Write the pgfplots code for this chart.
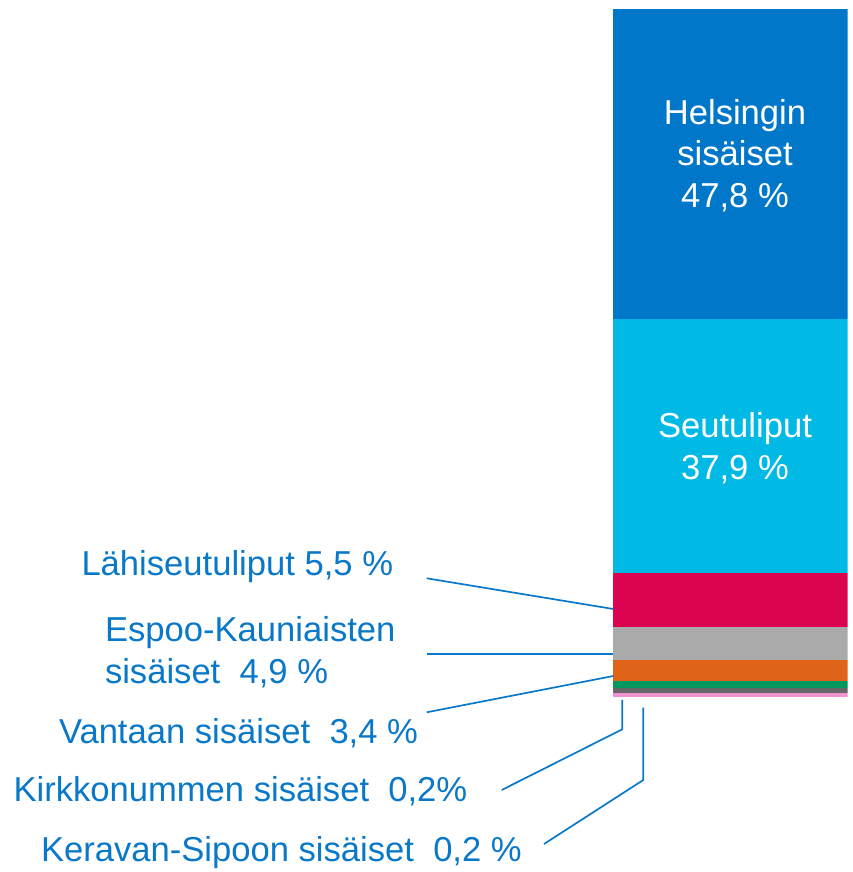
\documentclass[border=0pt]{standalone}
\usepackage{pgfplots}
\pgfplotsset{compat=1.18}
\usepackage{fontspec}
\setmainfont{Liberation Sans}
\definecolor{hslblue}{HTML}{0077C8}
\definecolor{hslcyan}{HTML}{00B9E4}
\definecolor{hslred}{HTML}{DC0451}
\definecolor{hslgray}{HTML}{AAAAAA}
\definecolor{hslorange}{HTML}{E0631A}
\definecolor{hslgreen}{HTML}{00985F}
\definecolor{hsldgray}{HTML}{666666}
\definecolor{hslpink}{HTML}{F092CD}
\definecolor{labblue}{HTML}{0A78C8}
\begin{document}
\begin{tikzpicture}[x=1pt,y=1pt]
\coordinate (A) at (613,174.7);
\begin{axis}[
  at={(A)}, anchor=south west,
  scale only axis, width=234.7pt, height=688.3pt,
  xmin=-0.5, xmax=0.5, ymin=0, ymax=688.3,
  axis lines=none, ticks=none,
  ybar stacked, bar width=234.7pt,
  every axis plot/.append style={draw=none},
]
\addplot[fill=hslpink] coordinates {(0,4.0)};
\addplot[fill=hsldgray] coordinates {(0,5.0)};
\addplot[fill=hslgreen] coordinates {(0,7.6)};
\addplot[fill=hslorange] coordinates {(0,20.7)};
\addplot[fill=hslgray] coordinates {(0,33.3)};
\addplot[fill=hslred] coordinates {(0,53.3)};
\addplot[fill=hslcyan] coordinates {(0,254.0)};
\addplot[fill=hslblue] coordinates {(0,310.4)};
\end{axis}
\fontsize{34.6}{40}\selectfont
\begin{scope}[every node/.style={inner sep=0pt, outer sep=0pt, text=white, anchor=base}]
\node at (735,{872-124.5}) {Helsingin};
\node at (735,{872-166}) {sisäiset};
\node at (735,{872-207.5}) {47,8 \%};
\node at (735,{872-437.5}) {Seutuliput};
\node at (735,{872-480}) {37,9 \%};
\end{scope}
\begin{scope}[every node/.style={inner sep=0pt, outer sep=0pt, text=labblue, anchor=base west}]
\node at (81.5,{872-575.7}) {Lähiseutuliput 5,5 \%};
\node at (105,{872-641.7}) {Espoo-Kauniaisten};
\node at (105,{872-683.3}) {sisäiset\ \ 4,9 \%};
\node at (59,{872-743.3}) {Vantaan sisäiset\ \ 3,4 \%};
\node at (13.5,{872-801.7}) {Kirkkonummen sisäiset\ \ 0,2\%};
\node at (41,{872-861.7}) {Keravan-Sipoon sisäiset\ \ 0,2 \%};
\end{scope}
\begin{scope}[draw=labblue, line width=1.7pt]
\draw (426.7,{872-578.3}) -- (613.3,{872-609});
\draw (426.7,{872-654}) -- (613.3,{872-654});
\draw (426.7,{872-712.3}) -- (613.3,{872-676});
\draw (622.3,{872-700}) -- (622.3,{872-729.3}) -- (501.7,{872-790});
\draw (643.3,{872-707.7}) -- (643.3,{872-780}) -- (544,{872-844});
\end{scope}
\pgfresetboundingbox
\path (0,0) rectangle (853,872);
\end{tikzpicture}
\end{document}
